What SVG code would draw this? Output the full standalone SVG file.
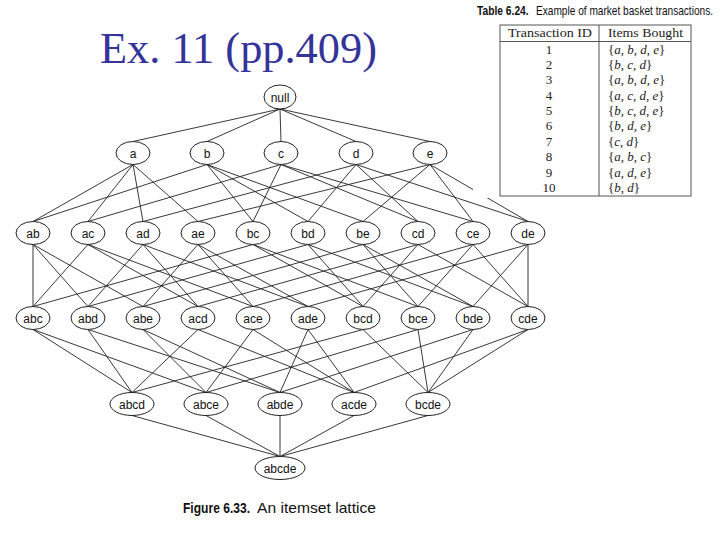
<svg xmlns="http://www.w3.org/2000/svg" width="720" height="540" viewBox="0 0 720 540">
<style>
.bg{fill:#ffffff}
.title{font-family:"Liberation Serif","Times New Roman",serif;font-size:44px;fill:#333399}
.n ellipse{fill:#ffffff;stroke:#222;stroke-width:1}
.n text{font-family:"Liberation Sans",Arial,sans-serif;font-size:12px;fill:#111;text-anchor:middle}
.edges line{stroke:#222;stroke-width:0.9}
.tt{font-family:"Liberation Sans",Arial,sans-serif;font-size:12.5px;fill:#111}
.tb{font-weight:bold}
.tbl{fill:none;stroke:#555;stroke-width:1}
.cm{font-family:"Liberation Serif","DejaVu Serif",serif;font-size:13px;fill:#222}
.it{font-style:italic}
.cap{font-family:"Liberation Sans",Arial,sans-serif;font-size:14.5px;fill:#111}
</style>
<rect class="bg" x="0" y="0" width="720" height="540"/>
<text class="title" x="100" y="63" textLength="277" lengthAdjust="spacingAndGlyphs">Ex. 11 (pp.409)</text>

<g id="connectors" class="edges">
<!-- null to level 1 -->
<line x1="280" y1="109" x2="133" y2="141.5"/>
<line x1="280" y1="109" x2="207" y2="141.5"/>
<line x1="280" y1="109" x2="281" y2="141.5"/>
<line x1="280" y1="109" x2="356" y2="141.5"/>
<line x1="280" y1="109" x2="430" y2="141.5"/>
<!-- level 1 to level 2 -->
<line x1="133" y1="164.5" x2="33" y2="221.5"/>
<line x1="133" y1="164.5" x2="88" y2="221.5"/>
<line x1="133" y1="164.5" x2="143" y2="221.5"/>
<line x1="133" y1="164.5" x2="198" y2="221.5"/>
<line x1="207" y1="164.5" x2="33" y2="221.5"/>
<line x1="207" y1="164.5" x2="253" y2="221.5"/>
<line x1="207" y1="164.5" x2="308" y2="221.5"/>
<line x1="207" y1="164.5" x2="363" y2="221.5"/>
<line x1="281" y1="164.5" x2="88" y2="221.5"/>
<line x1="281" y1="164.5" x2="253" y2="221.5"/>
<line x1="281" y1="164.5" x2="418" y2="221.5"/>
<line x1="281" y1="164.5" x2="473" y2="221.5"/>
<line x1="356" y1="164.5" x2="143" y2="221.5"/>
<line x1="356" y1="164.5" x2="308" y2="221.5"/>
<line x1="356" y1="164.5" x2="418" y2="221.5"/>
<line x1="356" y1="164.5" x2="528" y2="221.5"/>
<line x1="430" y1="164.5" x2="198" y2="221.5"/>
<line x1="430" y1="164.5" x2="363" y2="221.5"/>
<line x1="430" y1="164.5" x2="473" y2="221.5"/>
<line x1="430" y1="164.5" x2="528" y2="221.5"/>
<!-- level 2 to level 3 -->
<line x1="33" y1="244.5" x2="33" y2="306.5"/>
<line x1="33" y1="244.5" x2="88" y2="306.5"/>
<line x1="33" y1="244.5" x2="143" y2="306.5"/>
<line x1="88" y1="244.5" x2="33" y2="306.5"/>
<line x1="88" y1="244.5" x2="198" y2="306.5"/>
<line x1="88" y1="244.5" x2="253" y2="306.5"/>
<line x1="143" y1="244.5" x2="88" y2="306.5"/>
<line x1="143" y1="244.5" x2="198" y2="306.5"/>
<line x1="143" y1="244.5" x2="308" y2="306.5"/>
<line x1="198" y1="244.5" x2="143" y2="306.5"/>
<line x1="198" y1="244.5" x2="253" y2="306.5"/>
<line x1="198" y1="244.5" x2="308" y2="306.5"/>
<line x1="253" y1="244.5" x2="33" y2="306.5"/>
<line x1="253" y1="244.5" x2="363" y2="306.5"/>
<line x1="253" y1="244.5" x2="418" y2="306.5"/>
<line x1="308" y1="244.5" x2="88" y2="306.5"/>
<line x1="308" y1="244.5" x2="363" y2="306.5"/>
<line x1="308" y1="244.5" x2="473" y2="306.5"/>
<line x1="363" y1="244.5" x2="143" y2="306.5"/>
<line x1="363" y1="244.5" x2="418" y2="306.5"/>
<line x1="363" y1="244.5" x2="473" y2="306.5"/>
<line x1="418" y1="244.5" x2="198" y2="306.5"/>
<line x1="418" y1="244.5" x2="363" y2="306.5"/>
<line x1="418" y1="244.5" x2="528" y2="306.5"/>
<line x1="473" y1="244.5" x2="253" y2="306.5"/>
<line x1="473" y1="244.5" x2="418" y2="306.5"/>
<line x1="473" y1="244.5" x2="528" y2="306.5"/>
<line x1="528" y1="244.5" x2="308" y2="306.5"/>
<line x1="528" y1="244.5" x2="473" y2="306.5"/>
<line x1="528" y1="244.5" x2="528" y2="306.5"/>
<!-- level 3 to level 4 -->
<line x1="33" y1="329.5" x2="132" y2="392.5"/>
<line x1="33" y1="329.5" x2="206" y2="392.5"/>
<line x1="88" y1="329.5" x2="132" y2="392.5"/>
<line x1="88" y1="329.5" x2="280" y2="392.5"/>
<line x1="143" y1="329.5" x2="206" y2="392.5"/>
<line x1="143" y1="329.5" x2="280" y2="392.5"/>
<line x1="198" y1="329.5" x2="132" y2="392.5"/>
<line x1="198" y1="329.5" x2="354" y2="392.5"/>
<line x1="253" y1="329.5" x2="206" y2="392.5"/>
<line x1="253" y1="329.5" x2="354" y2="392.5"/>
<line x1="308" y1="329.5" x2="280" y2="392.5"/>
<line x1="308" y1="329.5" x2="354" y2="392.5"/>
<line x1="363" y1="329.5" x2="132" y2="392.5"/>
<line x1="363" y1="329.5" x2="428" y2="392.5"/>
<line x1="418" y1="329.5" x2="206" y2="392.5"/>
<line x1="418" y1="329.5" x2="428" y2="392.5"/>
<line x1="473" y1="329.5" x2="280" y2="392.5"/>
<line x1="473" y1="329.5" x2="428" y2="392.5"/>
<line x1="528" y1="329.5" x2="354" y2="392.5"/>
<line x1="528" y1="329.5" x2="428" y2="392.5"/>
<!-- level 4 to level 5 -->
<line x1="132" y1="415.5" x2="280" y2="456.5"/>
<line x1="206" y1="415.5" x2="280" y2="456.5"/>
<line x1="280" y1="415.5" x2="280" y2="456.5"/>
<line x1="354" y1="415.5" x2="280" y2="456.5"/>
<line x1="428" y1="415.5" x2="280" y2="456.5"/>
</g>

<g id="n-null" class="n"><ellipse cx="280" cy="97" rx="16" ry="12"/><text x="280" y="101.5">null</text></g>
<g id="n-a" class="n"><ellipse cx="133" cy="153" rx="17" ry="11.5"/><text x="133" y="157.5">a</text></g>
<g id="n-b" class="n"><ellipse cx="207" cy="153" rx="17" ry="11.5"/><text x="207" y="157.5">b</text></g>
<g id="n-c" class="n"><ellipse cx="281" cy="153" rx="17" ry="11.5"/><text x="281" y="157.5">c</text></g>
<g id="n-d" class="n"><ellipse cx="356" cy="153" rx="17" ry="11.5"/><text x="356" y="157.5">d</text></g>
<g id="n-e" class="n"><ellipse cx="430" cy="153" rx="17" ry="11.5"/><text x="430" y="157.5">e</text></g>

<g id="n-ab" class="n"><ellipse cx="33" cy="233" rx="17" ry="11.5"/><text x="33" y="237.5">ab</text></g>
<g id="n-ac" class="n"><ellipse cx="88" cy="233" rx="17" ry="11.5"/><text x="88" y="237.5">ac</text></g>
<g id="n-ad" class="n"><ellipse cx="143" cy="233" rx="17" ry="11.5"/><text x="143" y="237.5">ad</text></g>
<g id="n-ae" class="n"><ellipse cx="198" cy="233" rx="17" ry="11.5"/><text x="198" y="237.5">ae</text></g>
<g id="n-bc" class="n"><ellipse cx="253" cy="233" rx="17" ry="11.5"/><text x="253" y="237.5">bc</text></g>
<g id="n-bd" class="n"><ellipse cx="308" cy="233" rx="17" ry="11.5"/><text x="308" y="237.5">bd</text></g>
<g id="n-be" class="n"><ellipse cx="363" cy="233" rx="17" ry="11.5"/><text x="363" y="237.5">be</text></g>
<g id="n-cd" class="n"><ellipse cx="418" cy="233" rx="17" ry="11.5"/><text x="418" y="237.5">cd</text></g>
<g id="n-ce" class="n"><ellipse cx="473" cy="233" rx="17" ry="11.5"/><text x="473" y="237.5">ce</text></g>
<g id="n-de" class="n"><ellipse cx="528" cy="233" rx="17" ry="11.5"/><text x="528" y="237.5">de</text></g>

<g id="n-abc" class="n"><ellipse cx="33" cy="318" rx="17" ry="11.5"/><text x="33" y="322.5">abc</text></g>
<g id="n-abd" class="n"><ellipse cx="88" cy="318" rx="17" ry="11.5"/><text x="88" y="322.5">abd</text></g>
<g id="n-abe" class="n"><ellipse cx="143" cy="318" rx="17" ry="11.5"/><text x="143" y="322.5">abe</text></g>
<g id="n-acd" class="n"><ellipse cx="198" cy="318" rx="17" ry="11.5"/><text x="198" y="322.5">acd</text></g>
<g id="n-ace" class="n"><ellipse cx="253" cy="318" rx="17" ry="11.5"/><text x="253" y="322.5">ace</text></g>
<g id="n-ade" class="n"><ellipse cx="308" cy="318" rx="17" ry="11.5"/><text x="308" y="322.5">ade</text></g>
<g id="n-bcd" class="n"><ellipse cx="363" cy="318" rx="17" ry="11.5"/><text x="363" y="322.5">bcd</text></g>
<g id="n-bce" class="n"><ellipse cx="418" cy="318" rx="17" ry="11.5"/><text x="418" y="322.5">bce</text></g>
<g id="n-bde" class="n"><ellipse cx="473" cy="318" rx="17" ry="11.5"/><text x="473" y="322.5">bde</text></g>
<g id="n-cde" class="n"><ellipse cx="528" cy="318" rx="17" ry="11.5"/><text x="528" y="322.5">cde</text></g>

<g id="n-abcd" class="n"><ellipse cx="132" cy="404" rx="22" ry="11.5"/><text x="132" y="408.5">abcd</text></g>
<g id="n-abce" class="n"><ellipse cx="206" cy="404" rx="22" ry="11.5"/><text x="206" y="408.5">abce</text></g>
<g id="n-abde" class="n"><ellipse cx="280" cy="404" rx="22" ry="11.5"/><text x="280" y="408.5">abde</text></g>
<g id="n-acde" class="n"><ellipse cx="354" cy="404" rx="22" ry="11.5"/><text x="354" y="408.5">acde</text></g>
<g id="n-bcde" class="n"><ellipse cx="428" cy="404" rx="22" ry="11.5"/><text x="428" y="408.5">bcde</text></g>

<g id="n-abcde" class="n"><ellipse cx="280" cy="468" rx="25" ry="11.5"/><text x="280" y="472.5">abcde</text></g>

<g id="caption">
<text class="cap tb" x="183" y="513" textLength="67" lengthAdjust="spacingAndGlyphs">Figure 6.33.</text>
<text class="cap" x="257" y="513" textLength="119" lengthAdjust="spacingAndGlyphs">An itemset lattice</text>
</g>

<g id="table">
<rect class="bg" x="473" y="0" width="247" height="198"/>
<g transform="translate(477,15) scale(0.82,1)">
<text class="tt tb" x="0" y="0">Table 6.24.</text>
</g>
<g transform="translate(536,15) scale(0.81,1)">
<text class="tt" x="0" y="0">Example of market basket transactions.</text>
</g>
<rect class="tbl" x="500" y="25" width="191" height="171"/>
<line class="tbl" x1="500" y1="41.5" x2="691" y2="41.5"/>
<line class="tbl" x1="599" y1="25" x2="599" y2="196"/>
<text class="cm" x="508" y="37" textLength="84" lengthAdjust="spacingAndGlyphs">Transaction ID</text>
<text class="cm" x="608" y="37" textLength="75" lengthAdjust="spacingAndGlyphs">Items Bought</text>
<g class="cm" text-anchor="middle">
<text x="549" y="53.5">1</text>
<text x="549" y="68.9">2</text>
<text x="549" y="84.3">3</text>
<text x="549" y="99.6">4</text>
<text x="549" y="115">5</text>
<text x="549" y="130.4">6</text>
<text x="549" y="145.8">7</text>
<text x="549" y="161.2">8</text>
<text x="549" y="176.5">9</text>
<text x="549" y="191.9">10</text>
</g>
<g class="cm">
<text x="608" y="53.5">{<tspan class="it">a</tspan>, <tspan class="it">b</tspan>, <tspan class="it">d</tspan>, <tspan class="it">e</tspan>}</text>
<text x="608" y="68.9">{<tspan class="it">b</tspan>, <tspan class="it">c</tspan>, <tspan class="it">d</tspan>}</text>
<text x="608" y="84.3">{<tspan class="it">a</tspan>, <tspan class="it">b</tspan>, <tspan class="it">d</tspan>, <tspan class="it">e</tspan>}</text>
<text x="608" y="99.6">{<tspan class="it">a</tspan>, <tspan class="it">c</tspan>, <tspan class="it">d</tspan>, <tspan class="it">e</tspan>}</text>
<text x="608" y="115">{<tspan class="it">b</tspan>, <tspan class="it">c</tspan>, <tspan class="it">d</tspan>, <tspan class="it">e</tspan>}</text>
<text x="608" y="130.4">{<tspan class="it">b</tspan>, <tspan class="it">d</tspan>, <tspan class="it">e</tspan>}</text>
<text x="608" y="145.8">{<tspan class="it">c</tspan>, <tspan class="it">d</tspan>}</text>
<text x="608" y="161.2">{<tspan class="it">a</tspan>, <tspan class="it">b</tspan>, <tspan class="it">c</tspan>}</text>
<text x="608" y="176.5">{<tspan class="it">a</tspan>, <tspan class="it">d</tspan>, <tspan class="it">e</tspan>}</text>
<text x="608" y="191.9">{<tspan class="it">b</tspan>, <tspan class="it">d</tspan>}</text>
</g>
</g>
</svg>
